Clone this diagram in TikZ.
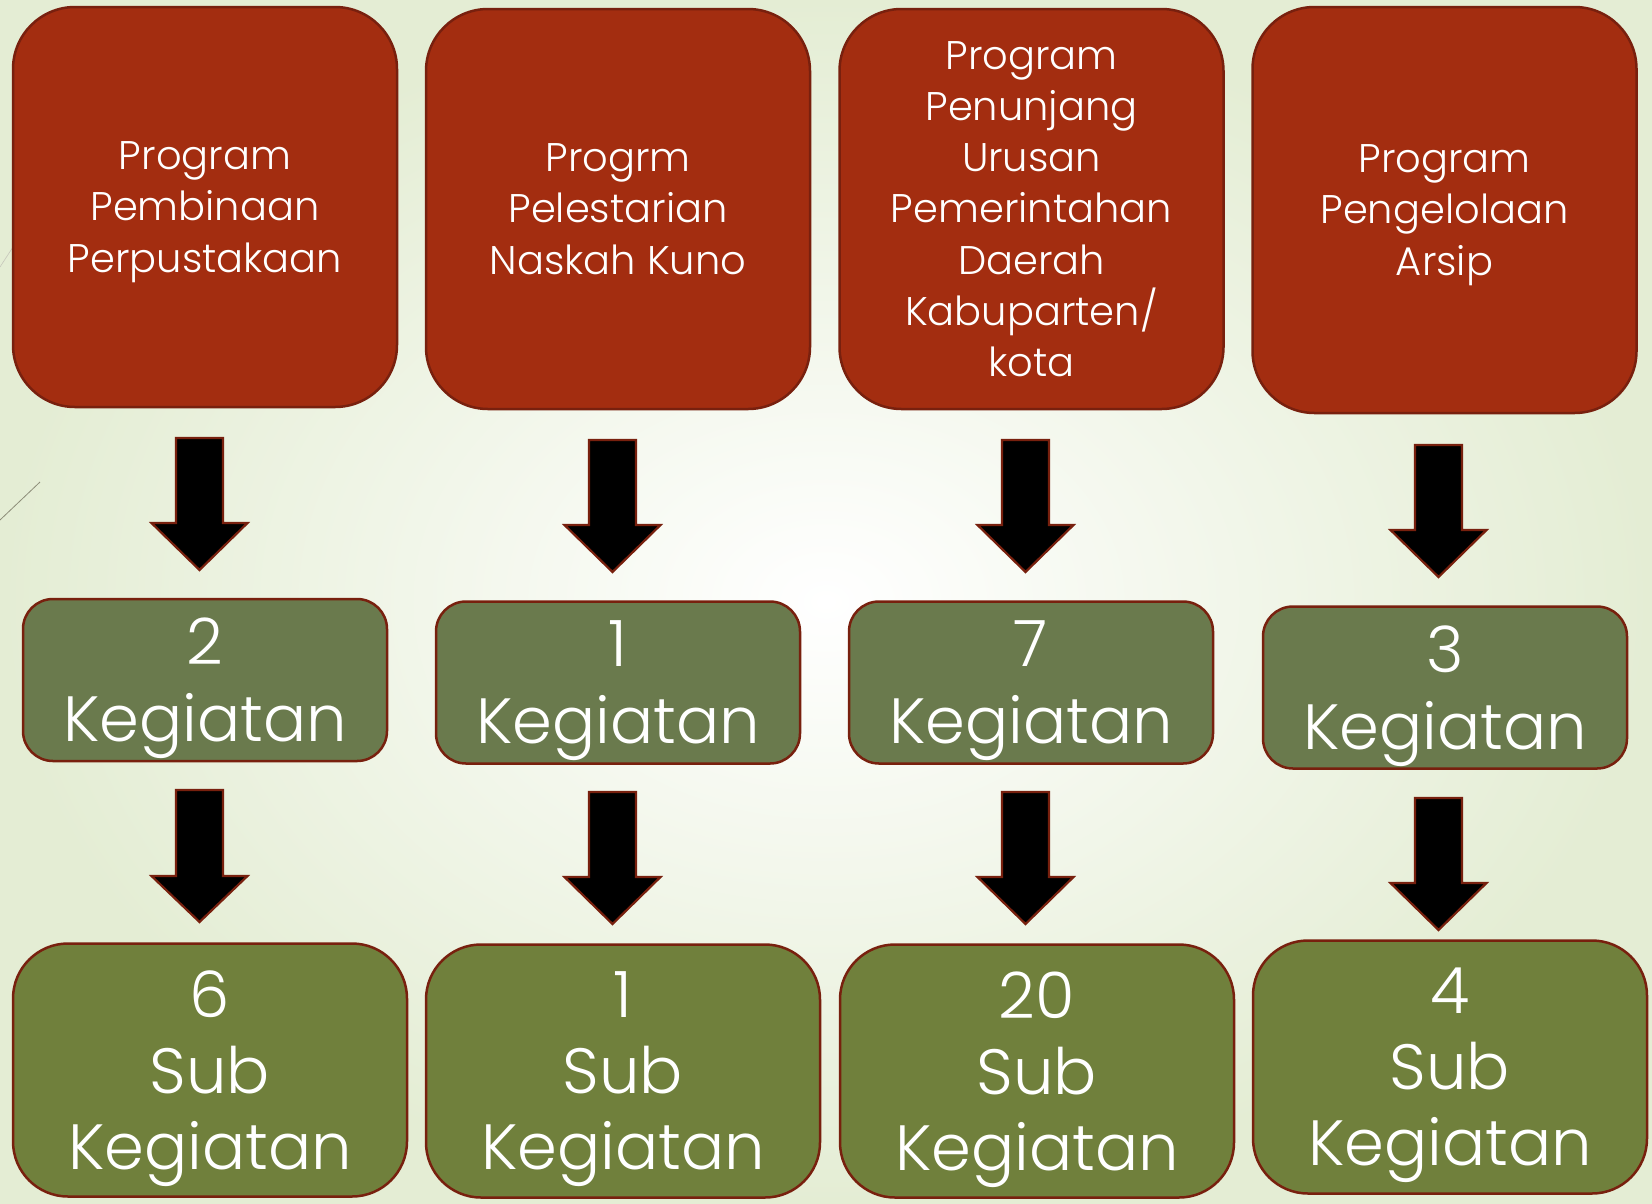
\documentclass[tikz,border=0pt]{standalone}
\usepackage{fontspec}
\IfFontExistsTF{Poppins Light}{\setmainfont{Poppins Light}}{\setmainfont{Poppins}}
\usetikzlibrary{calc}
\definecolor{redbox}{RGB}{163,45,16}
\definecolor{redline}{RGB}{120,32,14}
\definecolor{midgreen}{RGB}{106,122,77}
\definecolor{botgreen}{RGB}{112,128,60}
\definecolor{bgout}{RGB}{228,237,212}
\definecolor{deco}{RGB}{140,140,120}
\newcommand\BlkArrow[5]{%
  \coordinate (#1) at (#2,#3);
  \draw[arrowshape] ($(#1)+(-23.5,0)$) -- ($(#1)+(23.5,0)$) -- ($(#1)+(23.5,#4-#3)$) -- ($(#1)+(48,#4-#3)$)
    -- ($(#1)+(0,#5-#3)$) -- ($(#1)+(-48,#4-#3)$) -- ($(#1)+(-23.5,#4-#3)$) -- cycle;}
\begin{document}
\begin{tikzpicture}[x=1pt,y=-1pt,
  box/.style={draw=redline, line width=2.5pt, text=white, align=center, inner sep=0pt, outer sep=0pt, text depth=0pt},
  topbox/.style={box, fill=redbox, rounded corners=62pt, minimum width=384pt, minimum height=400pt,
    font=\fontsize{40}{51.3}\selectfont},
  midbox/.style={box, fill=midgreen, rounded corners=30pt, minimum width=364pt, minimum height=162pt,
    font=\fontsize{64}{77}\selectfont},
  botbox/.style={box, fill=botgreen, rounded corners=55pt, minimum width=394pt, minimum height=253pt,
    font=\fontsize{64}{76}\selectfont},
  arrowshape/.style={fill=black, draw=redline, line width=2.2pt, line join=miter}]
\useasboundingbox (0,0) rectangle (1652,1203);
\shade[inner color=white, outer color=bgout] (0,0) rectangle (1652,1203);
% decorative slide lines
\coordinate (d1a) at (0,520); \coordinate (d1b) at (40,482);
\draw[deco, line width=0.8pt] (d1a) -- (d1b);
\coordinate (d2a) at (0,267); \coordinate (d2b) at (13,247);
\draw[deco!50, line width=0.6pt] (d2a) -- (d2b);
% top boxes
\node[topbox] (t1) at (205,207) {Program\\Pembinaan\\Perpustakaan};
\node[topbox] (t2) at (618,209) {Progrm\\Pelestarian\\Naskah Kuno};
\node[topbox] (t3) at (1031.5,209) {Program\\Penunjang\\Urusan\\Pemerintahan\\Daerah\\Kabuparten/\\kota};
\node[topbox, minimum height=406pt] (t4) at (1444.5,210) {Program\\Pengelolaan\\Arsip};
% middle boxes
\node[midbox] (m1) at (205,680) {2\\Kegiatan};
\node[midbox] (m2) at (618,682.5) {1\\Kegiatan};
\node[midbox] (m3) at (1031,682.5) {7\\Kegiatan};
\node[midbox] (m4) at (1445,687.5) {3\\Kegiatan};
% bottom boxes
\node[botbox] (b1) at (210,1070) {6\\Sub\\Kegiatan};
\node[botbox] (b2) at (623,1071) {1\\Sub\\Kegiatan};
\node[botbox] (b3) at (1037,1071) {20\\Sub\\Kegiatan};
\node[botbox] (b4) at (1450,1067) {4\\Sub\\Kegiatan};
% arrows row 1
\BlkArrow{a11}{199.5}{438}{523}{570}
\BlkArrow{a12}{612.5}{440}{525}{572}
\BlkArrow{a13}{1025.5}{440}{525}{572}
\BlkArrow{a14}{1438.5}{445}{530}{577}
% arrows row 2
\BlkArrow{a21}{199.5}{790}{876}{922}
\BlkArrow{a22}{612.5}{792}{877}{924}
\BlkArrow{a23}{1025.5}{792}{877}{924}
\BlkArrow{a24}{1438.5}{798}{883}{930}
\end{tikzpicture}
\end{document}
